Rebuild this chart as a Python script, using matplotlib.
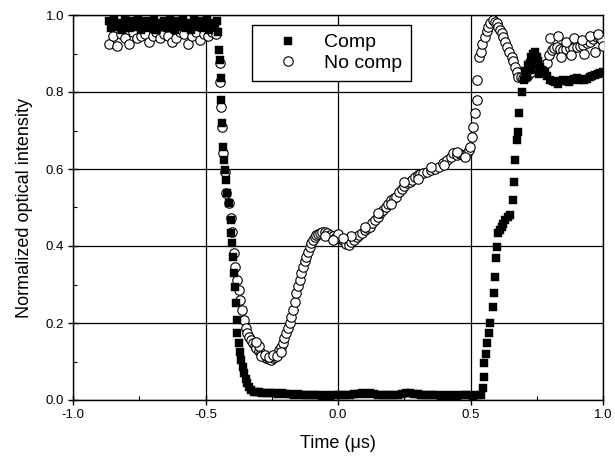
import matplotlib
matplotlib.use("Agg")
import matplotlib.pyplot as plt
from matplotlib.ticker import MultipleLocator

plt.rcParams['font.family'] = ['Liberation Sans', 'DejaVu Sans']

# ---- Comp (filled squares) ----
comp_x = [-0.865, -0.855, -0.845, -0.835, -0.825, -0.815, -0.805, -0.795, -0.785, -0.775,
          -0.765, -0.755, -0.745, -0.735, -0.725, -0.715, -0.705, -0.695, -0.685, -0.675,
          -0.665, -0.655, -0.645, -0.635, -0.625, -0.615, -0.605, -0.595, -0.585, -0.575,
          -0.565, -0.555, -0.545, -0.535, -0.525, -0.515, -0.505, -0.495, -0.485, -0.475,
          -0.465, -0.458,
          -0.452, -0.449, -0.446, -0.443, -0.440, -0.436, -0.435, -0.432, -0.428, -0.422,
          -0.418, -0.411, -0.405, -0.402, -0.400, -0.396, -0.392, -0.389, -0.386, -0.383,
          -0.380, -0.375, -0.370, -0.365, -0.360, -0.355, -0.348, -0.342, -0.335, -0.328,
          -0.318, -0.306,
          -0.30, -0.285, -0.27, -0.255, -0.24, -0.225, -0.21, -0.195, -0.18, -0.165, -0.15,
          -0.135, -0.12, -0.105, -0.09, -0.075, -0.06, -0.045, -0.03, -0.015, 0.0, 0.015,
          0.03, 0.045, 0.06, 0.075, 0.09, 0.105, 0.12, 0.135, 0.15, 0.165, 0.18, 0.195,
          0.21, 0.225, 0.24, 0.255, 0.27, 0.285, 0.30, 0.315, 0.33, 0.345, 0.36, 0.375,
          0.39, 0.405, 0.42, 0.435, 0.45, 0.465, 0.48, 0.495, 0.51, 0.525, 0.54,
          0.548, 0.550, 0.552, 0.558, 0.564, 0.569, 0.574, 0.584, 0.589, 0.592, 0.596,
          0.599, 0.605, 0.612, 0.618, 0.624, 0.630, 0.640, 0.649, 0.659, 0.664, 0.668,
          0.674, 0.678, 0.684, 0.693,
          0.700, 0.705, 0.712, 0.718, 0.725, 0.730, 0.737, 0.743, 0.750, 0.756, 0.762,
          0.768, 0.775, 0.781, 0.79, 0.80, 0.81, 0.82, 0.83, 0.84, 0.85, 0.86, 0.87,
          0.88, 0.89, 0.90, 0.91, 0.92, 0.93, 0.94, 0.95, 0.96, 0.97, 0.98, 0.99, 1.0,
          0.715, 0.728, 0.740, 0.745, 0.760]
comp_y = [0.985, 0.965, 0.99, 0.97, 0.98, 0.96, 0.99, 0.975, 0.965, 0.985,
          0.97, 0.99, 0.96, 0.98, 0.985, 0.965, 0.975, 0.99, 0.96, 0.98,
          0.97, 0.985, 0.965, 0.99, 0.975, 0.96, 0.985, 0.97, 0.99, 0.965,
          0.98, 0.96, 0.99, 0.97, 0.985, 0.965, 0.975, 0.99, 0.96, 0.98,
          0.97, 0.985,
          0.955, 0.909, 0.883, 0.836, 0.779, 0.719, 0.657, 0.623, 0.597, 0.571,
          0.538, 0.512, 0.468, 0.433, 0.407, 0.372, 0.329, 0.294, 0.251, 0.208,
          0.173, 0.147, 0.125, 0.104, 0.085, 0.069, 0.055, 0.043, 0.033, 0.026,
          0.022, 0.020,
          0.020, 0.019, 0.018, 0.017, 0.018, 0.016, 0.017, 0.015, 0.016, 0.014, 0.015,
          0.013, 0.014, 0.012, 0.013, 0.012, 0.011, 0.012, 0.011, 0.012, 0.013, 0.012,
          0.014, 0.013, 0.015, 0.016, 0.017, 0.016, 0.018, 0.015, 0.014, 0.013, 0.012, 0.013,
          0.013, 0.014, 0.016, 0.017, 0.018, 0.016, 0.015, 0.014, 0.013, 0.012, 0.013, 0.012,
          0.011, 0.012, 0.011, 0.012, 0.011, 0.012, 0.013, 0.012, 0.011, 0.012, 0.014,
          0.030, 0.060, 0.095, 0.120, 0.147, 0.175, 0.199, 0.242, 0.277, 0.320, 0.368,
          0.398, 0.433, 0.442, 0.450, 0.458, 0.468, 0.475, 0.480, 0.519, 0.567, 0.623,
          0.675, 0.697, 0.745, 0.801,
          0.830, 0.855, 0.849, 0.870, 0.875, 0.890, 0.900, 0.905, 0.892, 0.880, 0.866,
          0.858, 0.855, 0.853, 0.842, 0.831, 0.828, 0.826, 0.822, 0.828, 0.831, 0.828, 0.826,
          0.830, 0.833, 0.836, 0.832, 0.834, 0.831, 0.835, 0.839, 0.842, 0.844, 0.846, 0.850, 0.853,
          0.840, 0.858, 0.878, 0.870, 0.848]

# ---- No comp (open circles) ----
nocomp_x = [-0.865, -0.85, -0.835, -0.82, -0.805, -0.79, -0.775, -0.76, -0.745, -0.73,
            -0.715, -0.70, -0.685, -0.67, -0.655, -0.64, -0.625, -0.61, -0.595, -0.58,
            -0.565, -0.55, -0.535, -0.52, -0.505, -0.49, -0.475, -0.46,
            -0.447, -0.444, -0.440, -0.436, -0.434, -0.428, -0.422, -0.411, -0.405, -0.399,
            -0.393, -0.387, -0.381, -0.374, -0.368, -0.362, -0.356, -0.349, -0.343, -0.335,
            -0.328, -0.322, -0.315, -0.309, -0.300, -0.291, -0.282, -0.270, -0.260, -0.252,
            -0.244, -0.236, -0.228, -0.221, -0.215, -0.208, -0.202, -0.196, -0.190, -0.183,
            -0.177, -0.170, -0.164, -0.158, -0.152, -0.145, -0.139, -0.132, -0.126, -0.120,
            -0.113, -0.107, -0.101, -0.094, -0.088, -0.082, -0.075, -0.068, -0.060, -0.050,
            -0.040, -0.030, -0.020, -0.010, 0.0, 0.010, 0.020, 0.030, 0.040, 0.050, 0.060,
            0.070, 0.080, 0.090, 0.100, 0.110, 0.120, 0.130, 0.140, 0.150, 0.160, 0.170,
            0.180, 0.190, 0.200, 0.210, 0.220, 0.230, 0.240, 0.250, 0.260, 0.270, 0.280,
            0.290, 0.300, 0.310, 0.320, 0.335, 0.350, 0.365, 0.380, 0.395, 0.410, 0.425,
            0.435, 0.448, 0.460, 0.472, 0.486, 0.494, 0.498, 0.505, 0.511, 0.517, 0.523,
            0.526, 0.533, 0.540, 0.545, 0.555, 0.561, 0.567, 0.575, 0.586, 0.592, 0.599,
            0.605, 0.611, 0.618, 0.624, 0.630, 0.636, 0.645, 0.655, 0.662, 0.668, 0.674,
            0.680, 0.690, 0.699, 0.708, 0.718, 0.728, 0.737, 0.750, 0.762, 0.775, 0.787,
            0.797, 0.806, 0.815, 0.825, 0.837, 0.850, 0.862, 0.875, 0.887, 0.900, 0.913,
            0.926, 0.938, 0.951, 0.963, 0.976, 0.988, 0.998,
            0.80, 0.83, 0.86, 0.89, 0.92, 0.95, 0.98, 0.84, 0.88, 0.93, 0.97, 1.0,
            -0.29, -0.275, -0.26, -0.245, -0.23, -0.30, -0.31, -0.215,
            0.0, 0.05, 0.10, 0.15, 0.20, 0.25, 0.30, 0.35, 0.40, 0.45, 0.48, -0.05, -0.02, 0.02]
nocomp_y = [0.925, 0.945, 0.92, 0.95, 0.94, 0.925, 0.955, 0.94, 0.945, 0.95,
            0.93, 0.945, 0.955, 0.94, 0.95, 0.945, 0.93, 0.94, 0.955, 0.95,
            0.925, 0.945, 0.955, 0.935, 0.95, 0.945, 0.955, 0.95,
            0.875, 0.826, 0.760, 0.709, 0.641, 0.592, 0.538, 0.512, 0.473, 0.437,
            0.382, 0.346, 0.312, 0.286, 0.260, 0.234, 0.208, 0.187, 0.175, 0.164,
            0.155, 0.147, 0.140, 0.135, 0.128, 0.121, 0.114, 0.108, 0.106, 0.104,
            0.108, 0.112, 0.121, 0.130, 0.138, 0.147, 0.160, 0.173, 0.186, 0.199,
            0.216, 0.234, 0.255, 0.277, 0.295, 0.312, 0.330, 0.346, 0.360, 0.372,
            0.385, 0.398, 0.408, 0.416, 0.423, 0.429, 0.432, 0.433, 0.436, 0.437,
            0.434, 0.429, 0.425, 0.422, 0.420, 0.418, 0.416, 0.405, 0.402, 0.410, 0.416,
            0.424, 0.429, 0.435, 0.442, 0.447, 0.450, 0.460, 0.468, 0.476, 0.485, 0.494,
            0.502, 0.510, 0.519, 0.524, 0.528, 0.540, 0.548, 0.555, 0.563, 0.567, 0.571,
            0.578, 0.584, 0.586, 0.589, 0.593, 0.597, 0.600, 0.606, 0.615, 0.623, 0.632,
            0.641, 0.636, 0.640, 0.637, 0.641, 0.650, 0.658, 0.684, 0.710, 0.745, 0.779,
            0.831, 0.892, 0.905, 0.925, 0.943, 0.958, 0.970, 0.980, 0.987, 0.983, 0.979,
            0.970, 0.961, 0.952, 0.943, 0.930, 0.917, 0.905, 0.892, 0.880, 0.866, 0.853,
            0.840, 0.838, 0.836, 0.840, 0.844, 0.852, 0.862, 0.864, 0.866, 0.870, 0.875,
            0.895, 0.909, 0.915, 0.917, 0.912, 0.909, 0.912, 0.914, 0.915, 0.917, 0.920,
            0.922, 0.926, 0.930, 0.937, 0.943, 0.940, 0.935,
            0.940, 0.945, 0.930, 0.940, 0.935, 0.945, 0.950, 0.890, 0.895, 0.900, 0.905, 0.920,
            0.115, 0.118, 0.112, 0.118, 0.113, 0.140, 0.150, 0.125,
            0.430, 0.425, 0.450, 0.485, 0.510, 0.565, 0.575, 0.605, 0.610, 0.645, 0.630, 0.425, 0.415, 0.420]

x_ticks = [-1.0, -0.5, 0.0, 0.5, 1.0]
y_ticks = [0.0, 0.2, 0.4, 0.6, 0.8, 1.0]

fig = plt.figure(figsize=(6.15, 4.66), dpi=100)
ax = fig.add_axes([73/615, 66/466, 530/615, 385/466])

ax.plot(nocomp_x, nocomp_y, linestyle='none', marker='o', markersize=6.8,
        markerfacecolor='white', markeredgecolor='black', markeredgewidth=0.8,
        label='No comp', zorder=3)
ax.plot(comp_x, comp_y, linestyle='none', marker='s', markersize=5.9,
        color='black', markeredgewidth=0.3, label='Comp', zorder=4)

ax.set_xlim(-1.0, 1.0)
ax.set_ylim(0.0, 1.0)
ax.set_xticks(x_ticks)
ax.set_yticks(y_ticks)
ax.set_xticklabels([f"{v:.1f}" for v in x_ticks])
ax.set_yticklabels([f"{v:.1f}" for v in y_ticks])
ax.xaxis.set_minor_locator(MultipleLocator(0.25))
ax.yaxis.set_minor_locator(MultipleLocator(0.1))
ax.tick_params(which='major', direction='inout', length=7, width=1, labelsize=9.5, pad=3)
ax.tick_params(which='minor', direction='in', length=3, width=0.8)
ax.grid(True, which='major', color='black', linewidth=0.9)
ax.set_axisbelow(True)
for s in ax.spines.values():
    s.set_linewidth(1.0)

ax.set_xlabel('Time (\u03bcs)', fontsize=13, labelpad=10)
ax.set_ylabel('Normalized optical intensity', fontsize=13, labelpad=9)

handles, labels = ax.get_legend_handles_labels()
order = [1, 0]
leg = ax.legend([handles[i] for i in order], [labels[i] for i in order],
                loc='upper left', bbox_to_anchor=(179/530, (400-25)/385),
                fontsize=14, frameon=True, fancybox=False, edgecolor='black',
                borderpad=0.45, handlelength=2.8, handletextpad=0.45,
                labelspacing=0.15, borderaxespad=0)
leg.get_frame().set_linewidth(1.0)
leg.get_frame().set_alpha(1)

fig.savefig('out.png', dpi=100, facecolor='white')
